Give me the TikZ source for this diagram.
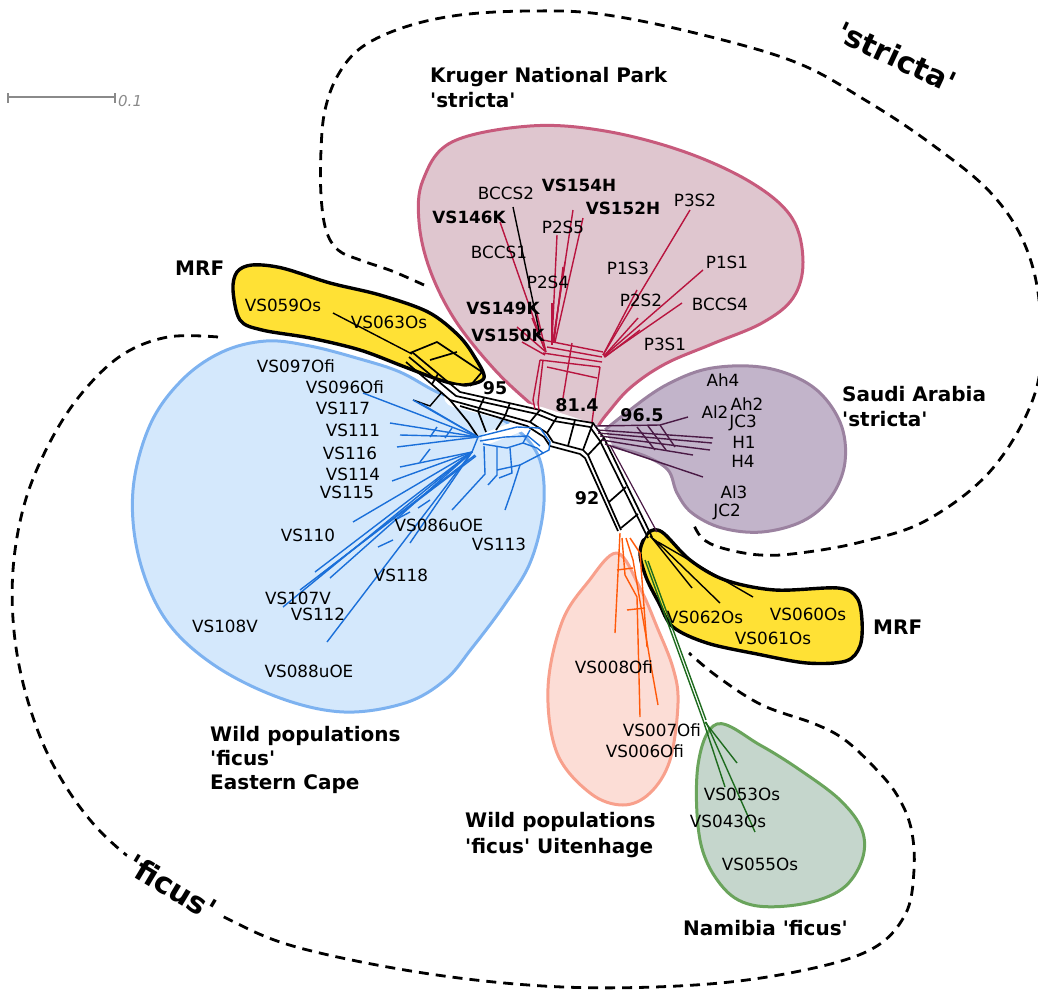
\documentclass[tikz,border=0pt]{standalone}
\usepackage{fontspec}
\setmainfont{DejaVu Sans}[Ligatures=TeXOff]
\usetikzlibrary{calc}
\definecolor{pinkfill}{HTML}{DFC6CF}
\definecolor{pinkline}{HTML}{C75A7C}
\definecolor{purfill}{HTML}{C2B4CA}
\definecolor{purline}{HTML}{9B82A0}
\definecolor{bluefill}{HTML}{D4E8FC}
\definecolor{blueline}{HTML}{7DB2F0}
\definecolor{yelfill}{HTML}{FFE135}
\definecolor{orfill}{HTML}{FCDDD6}
\definecolor{orline}{HTML}{F8A08C}
\definecolor{grfill}{HTML}{C5D6CC}
\definecolor{grline}{HTML}{6AA45C}
\definecolor{kred}{HTML}{B8143F}
\definecolor{spur}{HTML}{4A1A45}
\definecolor{eblue}{HTML}{1A6FD9}
\definecolor{uor}{HTML}{FF5A0A}
\definecolor{ngr}{HTML}{1E6B1E}
\definecolor{scalegray}{HTML}{8A8A8A}
\begin{document}
\begin{tikzpicture}[x=1pt,y=-1pt,
  lbl/.style={font=\fontsize{16.8}{18}\selectfont, inner sep=0pt},
  lblb/.style={font=\bfseries\fontsize{16.8}{18}\selectfont, inner sep=0pt},
  grp/.style={font=\bfseries\fontsize{20}{24}\selectfont, inner sep=0pt, anchor=base west},
  supp/.style={font=\bfseries\fontsize{17.5}{18}\selectfont, inner sep=0pt},
  big/.style={font=\bfseries\fontsize{30}{30}\selectfont, inner sep=1pt},
  groupline/.style={draw=black, line width=2.8pt, dash pattern=on 10pt off 7pt},
  blob/.style={line width=3pt, line join=round},
  core/.style={draw=black, line width=1.7pt, line join=round},
  redl/.style={draw=kred, line width=1.4pt},
  purl/.style={draw=spur, line width=1.4pt},
  bluel/.style={draw=eblue, line width=1.4pt},
  orl/.style={draw=uor, line width=1.4pt},
  grl/.style={draw=ngr, line width=1.4pt},
  blkl/.style={draw=black, line width=1.4pt}
]
\useasboundingbox (0,0) rectangle (1038,990);

% ---------- dashed group outlines ----------
\draw[groupline] plot[smooth, tension=0.6] coordinates {(424,285) (392,271) (360,260) (338,250) (326,230) (321,195) (321,150) (325,110) (338,75) (362,47) (405,27) (460,15) (530,11) (600,14) (695,33) (795,62) (865,100) (930,143) (990,192) (1025,245) (1040,310) (1036,390) (993,468) (927,520) (861,542) (800,553) (760,555) (722,548) (702,538) (692,521)};
\draw[groupline] plot[smooth, tension=0.6] coordinates {(218,337) (168,337) (122,355) (82,393) (50,442) (25,502) (13,570) (15,640) (30,708) (56,770) (99,830) (160,880) (230,920) (300,948) (430,974) (563,987) (695,985) (795,972) (870,950) (905,915) (914,870) (911,828) (897,795) (875,768) (845,740) (815,724) (762,705) (718,677) (689,653)};

% ---------- coloured groups ----------
\draw[blob, draw=black, fill=yelfill, line width=3.4pt] plot[smooth cycle, tension=0.55] coordinates {(233,290) (237,272) (252,265) (282,268) (330,283) (380,295) (428,312) (458,335) (474,356) (484,378) (464,385) (440,380) (405,367) (360,350) (310,338) (262,330) (240,320)};
\draw[blob, draw=pinkline, fill=pinkfill] plot[smooth cycle, tension=0.6] coordinates {(530,126) (605,131) (685,152) (752,183) (792,218) (803,262) (793,298) (762,323) (712,344) (665,364) (630,388) (606,415) (585,440) (560,428) (532,405) (494,369) (455,320) (430,270) (419,222) (423,180) (452,142)};
\draw[blob, draw=purline, fill=purfill] plot[smooth cycle, tension=0.6] coordinates {(596,440) (630,410) (668,384) (712,368) (767,368) (813,387) (840,422) (845,462) (831,497) (803,521) (762,532) (722,528) (692,513) (677,493) (668,470) (645,456) (615,447)};
\draw[blob, draw=blueline, fill=bluefill] plot[smooth cycle, tension=0.6] coordinates {(437,392) (400,372) (360,359) (310,346) (266,341) (222,352) (182,380) (150,425) (133,490) (139,558) (166,620) (214,665) (280,698) (344,712) (405,703) (445,680) (472,648) (505,604) (530,563) (543,513) (542,468) (528,440) (500,418) (470,404)};
\draw[blob, draw=black, fill=yelfill, line width=3.4pt] plot[smooth cycle, tension=0.55] coordinates {(648,533) (662,532) (690,560) (725,580) (775,590) (838,588) (857,598) (862,621) (860,646) (846,661) (807,663) (757,654) (707,643) (673,627) (659,603) (646,577) (640,552)};
\draw[blob, draw=orline, fill=orfill] plot[smooth cycle, tension=0.6] coordinates {(617,553) (588,582) (562,622) (548,688) (557,753) (590,793) (623,805) (650,793) (670,760) (678,703) (673,668) (657,627) (640,588)};
\draw[blob, draw=grline, fill=grfill] plot[smooth cycle, tension=0.6] coordinates {(717,724) (698,765) (700,840) (721,885) (752,905) (802,904) (842,889) (862,860) (862,830) (840,800) (800,770) (760,745)};

% ---------- white band behind the network core ----------
\draw[white, line width=22pt, line join=round, line cap=round] (455,396) -- (540,418) -- (596,436) -- (636,530);
\draw[white, line width=12pt, line cap=round] (540,418) -- (488,438);

% ---------- network core (black splits) ----------
\coordinate (ct1) at (540,410);
\coordinate (ct2) at (557,417);
\coordinate (ct3) at (593,423);
\coordinate (ct4) at (604,438);
\coordinate (cb1) at (530,422);
\coordinate (cb2) at (547,433);
\coordinate (cb3) at (553,442);
\coordinate (cb4) at (583,450);
\coordinate (cb5) at (588,455);
\draw[core] (412,352) -- (460,392) -- (ct1) -- (ct2) -- (ct3) -- (ct4) -- (652,537);
\draw[core] (409,357) -- (456,396) -- (537,414) -- (554,421) -- (590,427) -- (600,441) -- (648,538);
\draw[core] (406,362) -- (450,400) -- (cb1) -- (cb2) -- (cb3) -- (cb4) -- (cb5) -- (621,530);
\draw[core] (460,406) -- (527,426) -- (544,437) -- (550,446) -- (580,454) -- (585,458) -- (618,531);
\draw[core] (ct1) -- (cb1); \draw[core] (ct2) -- (cb2); \draw[core] (575,420) -- (568,446);
\draw[core] (ct3) -- (cb4); \draw[core] (ct4) -- (cb5);
\draw[core] (609,502) -- (626,487); \draw[core] (621,528) -- (638,514);
\draw[core] (438,374) -- (432,384); \draw[core] (510,403) -- (505,416); \draw[core] (484,398) -- (478,411);
% box inside upper MRF
\draw[core] (410,353) -- (437,342) -- (482,372) -- (470,386);
\draw[core] (430,360) -- (457,352);
\draw[blkl] (333,313) -- (412,354);
% small branch towards the blue group
\draw[core] (450,400) -- (468,422) -- (478,437);
\draw[core] (478,411) -- (486,432);
\draw[core] (505,416) -- (496,430);
\draw[blkl] (413,400) -- (430,406) -- (442,392);
% lower MRF hub
\draw[core] (650,536) -- (660,545);
\draw[blkl] (652,538) -- (692,588);
\draw[blkl] (655,540) -- (720,603);
\draw[blkl] (658,542) -- (753,597);
\draw[draw=spur, line width=1.2pt] (610,445) -- (657,532);

% ---------- Kruger (red) ----------
\draw[redl] (543,340) -- (603,352);
\draw[redl] (547,347) -- (602,357);
\draw[redl] (543,353) -- (602,362);
\draw[redl] (540,360) -- (600,367);
\draw[redl] (547,367) -- (597,378);
\draw[redl] (540,360) -- (533,400) -- (535,409);
\draw[redl] (543,360) -- (538,403) -- (539,410);
\draw[redl] (572,343) -- (563,398);
\draw[redl] (600,367) -- (595,400) -- (592,422);
\draw[redl] (544,348) -- (500,222);
\draw[redl] (545,350) -- (532,318);
\draw[redl] (546,352) -- (537,314);
\draw[redl] (546,352) -- (517,327);
\draw[redl] (545,355) -- (522,342);
\draw[redl] (552,342) -- (557,235);
\draw[redl] (553,342) -- (573,210);
\draw[redl] (555,342) -- (583,218);
\draw[redl] (553,342) -- (565,262);
\draw[redl] (554,342) -- (563,267);
\draw[redl] (552,345) -- (552,303);
\draw[blkl] (513,207) -- (540,335);
\draw[redl] (603,355) -- (690,210);
\draw[redl] (603,355) -- (637,290);
\draw[redl] (604,356) -- (703,270);
\draw[redl] (604,357) -- (682,303);
\draw[redl] (604,356) -- (638,318);
\draw[redl] (605,357) -- (640,330);

% ---------- Saudi Arabia (purple) ----------
\draw[purl] (595,426) -- (660,425) -- (688,417);
\draw[purl] (597,430) -- (713,438);
\draw[purl] (598,433) -- (712,443);
\draw[purl] (600,436) -- (710,450);
\draw[purl] (602,440) -- (693,455);
\draw[purl] (605,444) -- (703,477);
\draw[purl] (637,427) -- (655,450);
\draw[purl] (648,426) -- (666,450);
\draw[purl] (660,425) -- (675,447);

% ---------- Eastern Cape (blue) ----------
\foreach \p in {(363,393),(413,400),(420,403),(390,423),(400,435),(397,447)}
  \draw[bluel] (478,437) -- \p;
\foreach \p in {(400,467),(392,481),(353,522),(315,572),(283,607),(330,578),(327,642),(410,543)}
  \draw[bluel] (472,452) -- \p;
\draw[bluel] (475,455) -- (320,575);
\draw[bluel] (476,456) -- (300,590);
\draw[bluel] (472,452) -- (478,437);
\draw[bluel] (430,437) -- (437,427); \draw[bluel] (445,438) -- (452,428);
\draw[bluel] (420,462) -- (430,449); \draw[bluel] (395,520) -- (410,512);
\draw[bluel] (378,547) -- (393,540); \draw[bluel] (418,508) -- (430,500);
\draw[bluel] (477,437) -- (517,427) -- (540,428) -- (550,442) -- (549,450) -- (520,465) -- (512,490) -- (505,510);
\draw[bluel] (483,444) -- (507,448) -- (523,443) -- (537,448) -- (543,453);
\draw[bluel] (480,441) -- (505,437) -- (528,436) -- (540,446);
\draw[bluel] (484,446) -- (485,474) -- (452,510);
\draw[bluel] (497,447) -- (497,475) -- (488,485);
\draw[bluel] (510,448) -- (512,473) -- (499,478);
\draw[bluel] (523,443) -- (530,430);
\draw[bluel] (520,465) -- (497,470);

% ---------- Uitenhage (orange) ----------
\draw[orl] (620,533) -- (615,633);
\draw[orl] (622,538) -- (625,575) -- (637,597) -- (640,717);
\draw[orl] (626,538) -- (633,560) -- (650,660) -- (658,705);
\draw[orl] (630,538) -- (640,553) -- (647,647);
\draw[orl] (617,570) -- (633,568);
\draw[orl] (627,610) -- (645,608);

% ---------- Namibia (green) ----------
\draw[grl] (645,560) -- (703,720);
\draw[grl] (648,561) -- (706,720);
\draw[grl] (703,720) -- (725,787);
\draw[grl] (705,722) -- (737,763);
\draw[grl] (706,722) -- (755,832);

% ---------- scale bar ----------
\draw[scalegray, line width=1.2pt] (8,93) -- (8,103);
\draw[scalegray, line width=1.2pt] (115,93) -- (115,103);
\draw[scalegray, line width=1.2pt] (8,97) -- (115,97);
\node[font=\itshape\fontsize{15}{15}\selectfont, text=scalegray, anchor=west, inner sep=0pt] (scale) at (118,101) {0.1};

% ---------- leaf labels ----------
\node[lbl]  (bccs2) at (506,193) {BCCS2};
\node[lblb] (vs154h) at (579,185) {VS154H};
\node[lblb] (vs146k) at (469,217) {VS146K};
\node[lblb] (vs152h) at (623,208) {VS152H};
\node[lbl]  (p3s2) at (695,200) {P3S2};
\node[lbl]  (p2s5) at (563,227) {P2S5};
\node[lbl]  (bccs1) at (499,252) {BCCS1};
\node[lbl]  (p1s3) at (628,268) {P1S3};
\node[lbl]  (p1s1) at (727,262) {P1S1};
\node[lbl]  (p2s4) at (548,282) {P2S4};
\node[lbl]  (p2s2) at (641,300) {P2S2};
\node[lbl]  (bccs4) at (720,304) {BCCS4};
\node[lblb] (vs149k) at (503,308) {VS149K};
\node[lblb] (vs150k) at (508,335) {VS150K};
\node[lbl]  (p3s1) at (665,344) {P3S1};

\node[lbl] (ah4) at (723,380) {Ah4};
\node[lbl] (al2) at (715,412) {Al2};
\node[lbl] (ah2) at (747,404) {Ah2};
\node[lbl] (jc3) at (743,423) {JC3};
\node[lbl] (h1) at (744,442) {H1};
\node[lbl] (h4) at (743,461) {H4};
\node[lbl] (al3) at (734,492) {Al3};
\node[lbl] (jc2) at (727,512) {JC2};

\node[lbl] (vs059) at (283,305) {VS059Os};
\node[lbl] (vs063) at (389,322) {VS063Os};

\node[lbl] (vs097) at (296,366) {VS097Ofi};
\node[lbl] (vs096) at (345,387) {VS096Ofi};
\node[lbl] (vs117) at (343,408) {VS117};
\node[lbl] (vs111) at (353,430) {VS111};
\node[lbl] (vs116) at (350,453) {VS116};
\node[lbl] (vs114) at (353,474) {VS114};
\node[lbl] (vs115) at (347,492) {VS115};
\node[lbl] (vs110) at (308,535) {VS110};
\node[lbl] (vs086) at (439,525) {VS086uOE};
\node[lbl] (vs113) at (499,544) {VS113};
\node[lbl] (vs118) at (401,575) {VS118};
\node[lbl] (vs107) at (298,598) {VS107V};
\node[lbl] (vs112) at (318,614) {VS112};
\node[lbl] (vs108) at (225,626) {VS108V};
\node[lbl] (vs088) at (309,671) {VS088uOE};

\node[lbl] (vs062) at (705,617) {VS062Os};
\node[lbl] (vs060) at (808,614) {VS060Os};
\node[lbl] (vs061) at (773,638) {VS061Os};

\node[lbl] (vs008) at (614,667) {VS008Ofi};
\node[lbl] (vs007) at (662,730) {VS007Ofi};
\node[lbl] (vs006) at (645,751) {VS006Ofi};

\node[lbl] (vs053) at (742,794) {VS053Os};
\node[lbl] (vs043) at (728,821) {VS043Os};
\node[lbl] (vs055) at (760,864) {VS055Os};

% ---------- support values ----------
\node[supp] (s95) at (495,388) {95};
\node[supp] (s814) at (577,405) {81.4};
\node[supp] (s965) at (642,415) {96.5};
\node[supp] (s92) at (587,498) {92};

% ---------- group labels ----------
\node[grp] (kr1) at (430,82) {Kruger National Park};
\node[grp] (kr2) at (430,107) {'stricta'};
\node[grp] (mrf1) at (175,275) {MRF};
\node[grp] (sa1) at (842,401) {Saudi Arabia};
\node[grp] (sa2) at (842,426) {'stricta'};
\node[grp] (mrf2) at (873,634) {MRF};
\node[grp] (ec1) at (210,741) {Wild populations};
\node[grp] (ec2) at (210,765) {'ficus'};
\node[grp] (ec3) at (210,789) {Eastern Cape};
\node[grp] (ui1) at (465,827) {Wild populations};
\node[grp] (ui2) at (465,853) {'ficus' Uitenhage};
\node[grp] (na1) at (683,935) {Namibia 'ficus'};
\node[big, rotate=-25] (bigs) at (897,57) {'stricta'};
\node[big, rotate=-31, fill=white, inner sep=6pt] (bigf) at (172,887) {'ficus'};
\end{tikzpicture}
\end{document}
